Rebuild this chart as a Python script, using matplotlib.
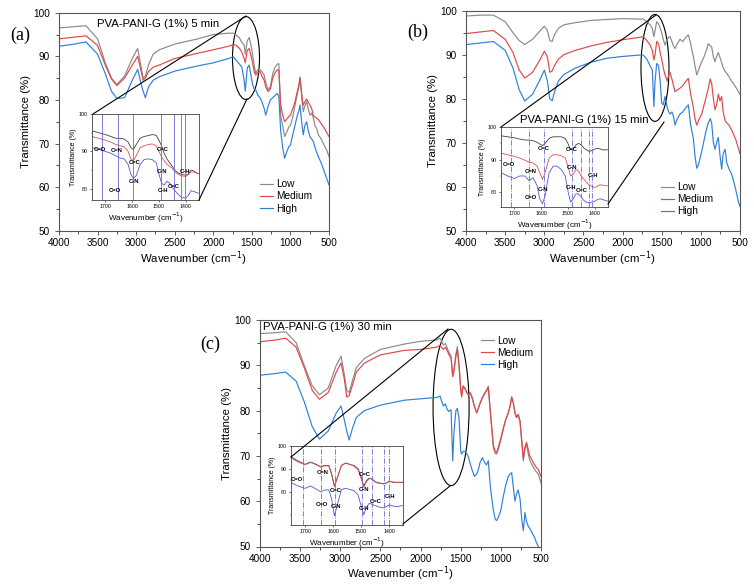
import matplotlib
matplotlib.use("Agg")
import matplotlib.pyplot as plt
from matplotlib.patches import Ellipse
from matplotlib.lines import Line2D
from matplotlib.ticker import MultipleLocator

plt.rcParams['font.family'] = ['Liberation Sans', 'DejaVu Sans']

W, H = 754, 585

# ---------------- main spectra ----------------
# panel (a) 5 min
wn_a = [4000, 3800, 3650, 3500, 3400, 3320, 3250, 3150, 3050, 2980, 2940, 2910, 2880, 2840,
        2780, 2700, 2500, 2200, 2000, 1800, 1740, 1700, 1660, 1630, 1600, 1585, 1560, 1535,
        1510, 1490, 1470, 1450, 1420, 1395, 1370, 1340, 1320, 1290, 1260, 1230, 1200, 1170,
        1150, 1127, 1100, 1075, 1050, 1020, 1000, 970, 940, 910, 890, 876, 860, 845, 833,
        815, 790, 770, 746, 725, 703, 680, 660, 638, 600, 560, 530, 500]
low_a = [96.5, 96.8, 97.0, 94.0, 88.5, 85.0, 83.5, 85.5, 89.5, 91.8, 88.0, 85.0, 85.5, 88.0,
         90.5, 91.5, 92.8, 94.0, 95.0, 95.3, 95.3, 94.8, 94.2, 93.2, 92.6, 90.5, 93.5, 94.3,
         92.5, 90.3, 88.0, 86.1, 87.0, 86.9, 86.5, 85.7, 84.0, 82.3, 83.0, 86.0, 87.5, 88.2,
         88.3, 76.5, 74.0, 71.6, 72.5, 73.8, 74.2, 76.0, 78.8, 81.5, 83.0, 85.3, 82.0, 79.0,
         77.3, 78.5, 79.6, 78.0, 76.5, 77.0, 75.8, 74.0, 73.5, 72.0, 71.0, 69.5, 68.5, 67.0]
med_a = [94.0, 94.4, 94.7, 92.5, 88.0, 84.8, 83.3, 85.0, 88.0, 90.0, 87.0, 84.5, 85.0, 86.5,
         87.5, 88.0, 89.5, 90.7, 91.5, 92.3, 92.7, 92.5, 91.8, 91.0, 89.5, 88.5, 91.3, 91.8,
         90.0, 88.5, 86.5, 85.7, 86.3, 86.5, 85.5, 84.5, 83.0, 81.9, 82.5, 85.0, 86.2, 86.9,
         86.8, 79.0, 76.5, 75.0, 75.5, 76.2, 76.5, 78.0, 79.6, 82.0, 83.5, 85.0, 82.5, 80.0,
         78.8, 79.5, 80.2, 79.5, 78.8, 78.0, 76.5, 76.0, 75.8, 75.5, 74.5, 73.5, 72.5, 71.6]
high_a = [92.3, 92.8, 93.3, 90.5, 86.0, 82.0, 80.3, 80.5, 84.5, 87.0, 84.0, 82.0, 80.5, 83.0,
          84.5, 85.3, 86.6, 87.8, 88.5, 89.5, 89.9, 89.0, 88.2, 87.5, 84.5, 82.0, 87.3, 88.0,
          85.5, 83.5, 82.5, 82.3, 81.0, 80.5, 79.6, 78.0, 76.5, 78.5, 80.0, 80.5, 81.0, 81.5,
          80.8, 73.0, 69.0, 66.6, 68.0, 69.3, 69.6, 72.0, 74.2, 76.5, 77.5, 78.8, 76.0, 73.5,
          72.0, 74.0, 75.0, 73.0, 71.5, 71.0, 70.5, 69.0, 68.0, 67.0, 65.5, 63.5, 62.0, 60.5]

# panel (b) 15 min
wn_b = [4000, 3800, 3650, 3500, 3400, 3320, 3250, 3150, 3050, 3000, 2960, 2930, 2900, 2870,
        2820, 2750, 2600, 2400, 2200, 2000, 1800, 1735, 1690, 1649, 1620, 1600, 1585, 1564,
        1540, 1520, 1500, 1480, 1458, 1430, 1410, 1394, 1370, 1350, 1330, 1300, 1266, 1230,
        1190, 1160, 1130, 1096, 1075, 1053, 1030, 1010, 989, 960, 930, 904, 880, 862, 840,
        819, 800, 777, 755, 734, 715, 690, 670, 640, 610, 585, 550, 521, 500]
low_b = [98.8, 99.0, 99.0, 97.5, 95.0, 93.2, 92.3, 93.5, 95.5, 96.5, 95.5, 93.2, 93.0, 94.5,
         96.0, 96.8, 97.3, 97.8, 98.0, 98.2, 98.1, 98.1, 97.5, 96.8, 96.0, 94.1, 95.5, 97.5,
         97.0, 96.0, 95.0, 93.5, 92.2, 93.5, 94.0, 94.1, 93.0, 92.0, 91.4, 92.5, 93.5, 93.0,
         94.0, 94.5, 92.5, 89.6, 87.5, 85.4, 86.5, 87.5, 88.4, 89.5, 91.0, 92.5, 92.0, 91.8,
         89.5, 88.4, 89.5, 90.5, 89.3, 88.2, 87.0, 86.2, 85.8, 85.0, 84.0, 83.5, 82.5, 81.6, 81.0]
med_b = [94.8, 95.2, 95.5, 93.5, 90.5, 86.5, 84.7, 86.0, 89.0, 90.8, 89.5, 86.0, 86.3, 87.5,
         89.0, 90.0, 91.0, 92.0, 92.8, 93.4, 93.9, 94.1, 93.2, 92.2, 91.0, 88.8, 90.0, 93.0,
         92.5, 90.5, 89.0, 87.0, 85.4, 84.0, 85.5, 86.0, 84.5, 83.0, 81.6, 82.0, 82.4, 83.0,
         84.0, 84.6, 81.0, 78.0, 75.5, 74.0, 75.0, 75.8, 76.5, 78.5, 80.5, 82.5, 84.5, 83.5,
         80.0, 77.5, 78.5, 81.0, 79.5, 80.5, 77.0, 75.0, 74.5, 74.0, 73.0, 72.0, 70.5, 68.7, 67.5]
high_b = [92.3, 92.7, 93.0, 91.0, 87.0, 82.0, 79.5, 81.0, 84.5, 86.5, 84.0, 80.0, 79.5, 81.5,
          84.0, 85.5, 87.0, 88.3, 89.2, 89.6, 89.9, 89.9, 89.0, 87.5, 86.5, 78.2, 84.0, 88.0,
          87.5, 84.0, 79.0, 78.6, 80.5, 78.0, 77.0, 76.5, 77.0, 76.0, 74.0, 75.5, 76.5, 77.0,
          78.0, 78.6, 74.0, 71.0, 67.0, 64.2, 65.0, 66.5, 68.0, 70.5, 73.0, 74.5, 75.5, 74.5,
          70.0, 68.5, 70.0, 71.2, 67.0, 64.0, 67.5, 68.5, 65.5, 64.0, 63.0, 61.5, 59.0, 56.6, 55.5]

# panel (c) 30 min
wn_c = [4000, 3800, 3680, 3550, 3450, 3350, 3260, 3150, 3050, 2990, 2950, 2920, 2890, 2850,
        2800, 2700, 2500, 2200, 2000, 1800, 1758, 1716, 1690, 1675, 1650, 1620, 1600, 1585,
        1560, 1542, 1520, 1500, 1488, 1470, 1446, 1425, 1405, 1385, 1360, 1330, 1301, 1280,
        1260, 1230, 1200, 1180, 1156, 1130, 1093, 1070, 1052, 1030, 1000, 970, 940, 907, 885,
        865, 844, 825, 805, 785, 761, 740, 720, 700, 680, 660, 640, 610, 580, 560, 533, 500]
low_c = [97.0, 97.2, 97.4, 95.0, 90.0, 85.5, 83.5, 85.0, 90.0, 92.0, 88.0, 84.5, 84.0, 86.5,
         89.5, 91.5, 93.5, 94.7, 95.3, 95.6, 96.0, 94.5, 94.8, 94.1, 93.0, 92.0, 87.9, 89.0,
         92.5, 94.1, 90.0, 85.0, 83.5, 85.5, 85.0, 84.0, 83.5, 84.0, 83.0, 81.0, 79.5, 80.5,
         81.7, 83.0, 84.0, 84.5, 85.4, 79.5, 71.8, 70.5, 70.4, 71.5, 73.5, 76.0, 78.0, 79.5,
         81.0, 83.0, 81.7, 79.5, 78.5, 79.0, 77.5, 73.0, 68.9, 71.5, 72.5, 70.5, 69.0, 68.0,
         67.0, 66.5, 66.0, 64.0]
med_c = [95.2, 95.6, 96.0, 94.0, 89.5, 84.5, 82.5, 84.0, 88.5, 90.5, 87.0, 83.0, 83.3, 85.5,
         88.5, 90.5, 92.3, 93.3, 93.5, 94.0, 94.4, 93.5, 94.0, 93.5, 92.5, 91.5, 87.5, 88.5,
         92.0, 93.5, 89.5, 84.5, 83.0, 85.3, 84.8, 84.0, 83.5, 84.0, 83.0, 81.0, 79.5, 80.5,
         81.5, 82.8, 83.8, 84.3, 85.0, 79.5, 72.3, 71.0, 70.8, 72.0, 74.0, 76.0, 78.0, 79.5,
         81.0, 83.0, 81.5, 79.5, 78.5, 79.2, 77.8, 73.5, 69.5, 72.0, 73.0, 71.5, 70.0, 69.0,
         68.0, 67.5, 67.0, 65.5]
high_c = [87.8, 88.2, 88.5, 86.5, 82.0, 76.5, 73.7, 75.5, 79.5, 81.0, 78.0, 75.5, 73.5, 76.0,
          78.5, 80.0, 81.2, 82.3, 82.6, 82.9, 83.2, 81.0, 81.5, 80.5, 79.8, 80.2, 68.9, 75.0,
          80.0, 80.5, 78.0, 71.0, 70.4, 71.0, 71.0, 70.5, 69.8, 68.5, 67.0, 65.5, 66.0, 67.0,
          68.5, 69.6, 68.5, 68.0, 68.9, 63.0, 58.0, 56.0, 55.7, 56.5, 58.0, 61.0, 63.5, 65.5,
          66.0, 66.3, 63.0, 60.0, 61.5, 62.5, 60.5, 56.0, 53.5, 57.5, 55.5, 54.5, 54.0, 53.0,
          52.0, 51.0, 50.0, 48.5]

# ---------------- inset (zoomed) spectra ----------------
iwn = [1750, 1725, 1700, 1680, 1660, 1645, 1630, 1615, 1605, 1595, 1585, 1570, 1555, 1540,
       1525, 1510, 1500, 1490, 1480, 1470, 1460, 1450, 1440, 1430, 1420, 1410, 1400, 1390,
       1380, 1370, 1360, 1350]
in_low_a = [95.5, 95.0, 94.5, 94.0, 93.5, 93.5, 93.3, 92.5, 91.0, 90.5, 91.8, 93.5, 94.0, 94.2,
            94.5, 94.3, 93.0, 91.5, 89.5, 88.0, 87.0, 86.0, 85.0, 84.3, 84.0, 83.8, 83.6, 84.0,
            85.0, 84.8, 84.3, 84.0]
in_med_a = [94.0, 93.5, 93.0, 92.5, 91.8, 91.5, 91.2, 90.0, 88.0, 87.5, 88.8, 91.0, 91.5, 91.8,
            92.0, 91.5, 90.0, 88.5, 87.5, 86.5, 86.0, 85.5, 84.5, 84.0, 83.6, 83.4, 83.3, 83.8,
            84.5, 84.5, 84.2, 84.0]
in_high_a = [91.0, 90.5, 90.0, 89.5, 88.8, 88.2, 88.0, 86.5, 84.0, 82.7, 83.5, 86.5, 87.8, 88.0,
             87.8, 87.0, 84.0, 81.5, 81.0, 82.0, 81.5, 80.5, 79.5, 78.7, 78.0, 77.6, 77.5, 78.2,
             79.5, 79.3, 79.0, 78.8]

in_low_b = [97.3, 97.0, 96.7, 96.3, 96.0, 96.0, 95.8, 95.3, 94.8, 94.3, 95.0, 96.5, 97.0, 97.0,
            97.0, 96.5, 95.0, 93.0, 93.2, 94.5, 95.0, 94.5, 93.5, 93.0, 92.5, 92.8, 93.2, 93.5,
            93.3, 93.0, 93.0, 93.0]
in_med_b = [92.0, 91.5, 91.0, 90.5, 89.8, 89.2, 89.0, 88.0, 86.0, 84.0, 86.0, 90.5, 91.5, 91.5,
            91.2, 90.5, 88.0, 85.0, 85.5, 87.0, 86.5, 85.0, 84.0, 83.0, 82.2, 81.8, 81.5, 81.8,
            82.3, 82.2, 82.0, 82.0]
in_high_b = [86.0, 85.0, 84.2, 85.0, 85.0, 83.5, 84.5, 82.0, 78.0, 76.5, 79.0, 86.0, 88.0, 88.0,
             87.0, 85.0, 80.5, 77.0, 78.0, 79.5, 79.5, 78.5, 77.5, 77.0, 76.8, 77.0, 77.2, 77.8,
             78.0, 77.8, 77.5, 77.3]

in_low_c = [95.3, 93.5, 92.0, 93.0, 92.0, 91.0, 91.5, 91.5, 88.0, 82.5, 86.0, 91.5, 92.5, 92.0,
            91.5, 90.0, 86.5, 82.5, 85.0, 86.0, 85.5, 84.5, 84.0, 83.8, 83.5, 83.8, 84.5, 84.3,
            84.0, 84.0, 84.0, 84.0]
in_med_c = [94.8, 93.0, 91.8, 92.8, 91.8, 90.8, 91.3, 91.3, 87.5, 82.2, 85.8, 91.5, 92.6, 92.0,
            91.2, 89.5, 86.0, 82.0, 84.5, 85.8, 85.5, 84.3, 83.8, 83.6, 83.4, 83.8, 84.5, 84.4,
            84.2, 84.2, 84.2, 84.2]
in_high_c = [84.0, 82.5, 81.5, 82.5, 81.2, 80.0, 80.8, 80.8, 77.0, 69.5, 74.0, 81.0, 81.5, 81.0,
             80.5, 78.5, 74.0, 70.0, 73.5, 75.0, 74.5, 74.0, 73.5, 73.2, 73.0, 73.5, 74.2, 74.0,
             73.6, 73.5, 73.8, 74.0]

# band positions (vertical guide lines) in each inset
bands_a = [1712, 1653, 1596, 1491, 1443, 1419, 1403]
bands_b = [1711, 1644, 1589, 1486, 1452, 1420, 1408]
bands_c = [1707, 1642, 1593, 1496, 1462, 1419, 1400]

band_labels = ['C=O', 'C=N', 'C=C', 'C-N', 'C=O', 'C=C', 'C-N', 'C-H', 'C=C', 'C-H']
lab_x_a = [1722, 1658, 1590, 1592, 1664, 1487, 1490, 1486, 1446, 1404]
lab_y_a = [90.5, 90.2, 87.0, 82.0, 79.5, 90.5, 84.5, 79.5, 80.5, 84.5]
lab_x_b = [1722, 1640, 1592, 1592, 1640, 1484, 1486, 1490, 1448, 1405]
lab_y_b = [88.5, 86.5, 93.5, 81.0, 78.5, 93.0, 87.5, 81.5, 80.5, 85.0]
lab_x_c = [1728, 1636, 1590, 1588, 1640, 1486, 1490, 1490, 1446, 1398]
lab_y_c = [85.5, 88.5, 80.5, 73.5, 74.5, 87.5, 81.0, 72.5, 75.8, 77.8]

series = ['Low', 'Medium', 'High']
main_colors = ['#8a8a8a', '#e04848', '#2f80d8']
inset_colors = ['#404040', '#e05050', '#5555d8']


def fx(px):
    return px / W


def fy(py):
    return 1 - py / H


def panel(box, wn, ys, title, title_pos, leg_pos, ell, label, label_pos):
    x0, y0, x1, y1 = box
    ax = fig.add_axes([fx(x0), fy(y1), (x1 - x0) / W, (y1 - y0) / H])
    for yv, c, name in zip(ys, main_colors, series):
        ax.plot(wn, yv, color=c, lw=0.85, label=name)
    ax.set_xlim(4000, 500)
    ax.set_ylim(50, 100)
    ax.xaxis.set_major_locator(MultipleLocator(500))
    ax.xaxis.set_minor_locator(MultipleLocator(250))
    ax.yaxis.set_major_locator(MultipleLocator(10))
    ax.yaxis.set_minor_locator(MultipleLocator(5))
    ax.tick_params(labelsize=7.2, length=3, width=0.6, color='#444444')
    ax.tick_params(axis='x', pad=2.5)
    ax.tick_params(which='minor', length=2, width=0.5)
    for s in ax.spines.values():
        s.set_color('#555555')
        s.set_linewidth(0.8)
    ax.set_xlabel('Wavenumber (cm$^{-1}$)', fontsize=8.2, labelpad=0.5)
    ax.set_ylabel('Transmittance (%)', fontsize=8.2, labelpad=1.5)
    ax.text(title_pos[0], title_pos[1], title, transform=ax.transAxes,
            fontsize=8.2, va='center', ha='left')
    ax.legend(loc='upper left', bbox_to_anchor=leg_pos, frameon=False, fontsize=7.3,
              handlelength=1.3, handletextpad=0.3, labelspacing=0.2, borderaxespad=0,
              borderpad=0)
    ax.add_patch(Ellipse(ell[:2], ell[2], ell[3], fill=False, ec='black', lw=0.8))
    fig.text(fx(label_pos[0]), fy(label_pos[1]), label, fontsize=13,
             family='Liberation Serif', va='center', ha='left')
    return ax


def inset(box, ys, ylim, bands, lx, ly, ls):
    x0, y0, x1, y1 = box
    ax = fig.add_axes([fx(x0), fy(y1), (x1 - x0) / W, (y1 - y0) / H])
    for yv, c in zip(ys, inset_colors):
        ax.plot(iwn, yv, color=c, lw=0.6)
    for b in bands:
        ax.axvline(b, color='#6a6ad8', lw=0.6, ls=ls)
    for t, xx, yy in zip(band_labels, lx, ly):
        ax.text(xx, yy, t, fontsize=4.2, fontweight='bold', ha='center', va='center')
    ax.set_xlim(1750, 1350)
    ax.set_ylim(*ylim)
    ax.set_xticks([1700, 1600, 1500, 1400])
    ax.set_yticks([80, 90, 100])
    ax.xaxis.set_minor_locator(MultipleLocator(50))
    ax.yaxis.set_minor_locator(MultipleLocator(5))
    ax.tick_params(labelsize=3.8, length=1.5, width=0.4, pad=1.5)
    ax.tick_params(which='minor', length=1, width=0.3)
    for s in ax.spines.values():
        s.set_color('#444444')
        s.set_linewidth(0.6)
    ax.set_xlabel('Wavenumber (cm$^{-1}$)', fontsize=5.8, labelpad=1)
    ax.set_ylabel('Transmittance (%)', fontsize=5, labelpad=1.5)
    return ax


def connect(p0, p1):
    fig.add_artist(Line2D([fx(p0[0]), fx(p1[0])], [fy(p0[1]), fy(p1[1])],
                          transform=fig.transFigure, color='black', lw=0.8))


fig = plt.figure(figsize=(W / 100, H / 100), dpi=100)

panel((59, 12.7, 329, 230.7), wn_a, [low_a, med_a, high_a], 'PVA-PANI-G (1%) 5 min',
      (0.14, 0.948), (0.745, 0.235), (1576, 89.6, 350, 19), '(a)', (10, 35))
panel((466, 10.7, 740, 230.7), wn_b, [low_b, med_b, high_b], 'PVA-PANI-G (1%) 15 min',
      (0.197, 0.503), (0.71, 0.22), (1586, 87, 358, 24.3), '(b)', (407, 32))
panel((260, 320, 541, 546.5), wn_c, [low_c, med_c, high_c], 'PVA-PANI-G (1%) 30 min',
      (0.011, 0.969), (0.786, 0.93), (1620, 80.7, 449, 34.5), '(c)', (200, 344))

inset((92, 114, 199, 200), [in_low_a, in_med_a, in_high_a], (77, 100), bands_a,
      lab_x_a, lab_y_a, '-')
inset((501, 127, 608, 207), [in_low_b, in_med_b, in_high_b], (75.5, 100), bands_b,
      lab_x_b, lab_y_b, '-.')
inset((291, 446, 403, 525), [in_low_c, in_med_c, in_high_c], (65.5, 100), bands_c,
      lab_x_c, lab_y_c, '-.')

connect((246, 16), (93, 114))
connect((247, 99), (199, 200))
connect((656, 15), (501, 127))
connect((664, 122), (608, 204))
connect((448, 329), (291, 457))
connect((450, 486), (403, 524))

fig.savefig('out.png', dpi=100)
